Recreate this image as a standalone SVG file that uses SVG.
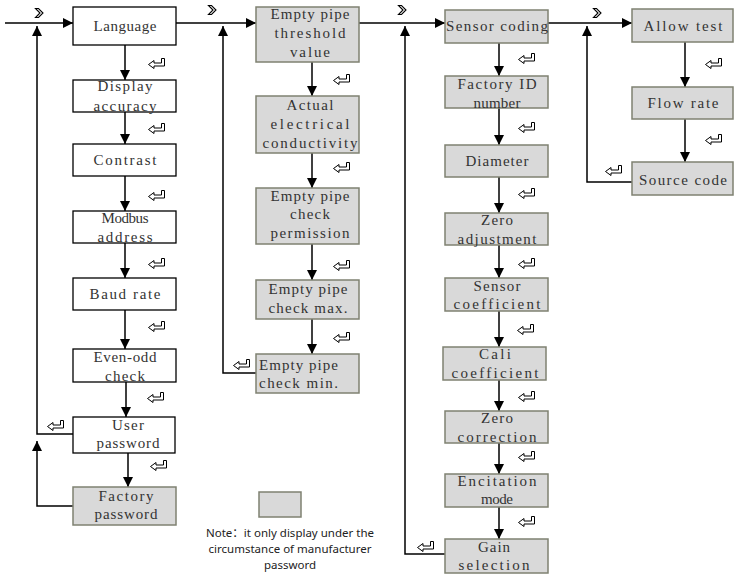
<svg xmlns="http://www.w3.org/2000/svg" width="734" height="579" viewBox="0 0 734 579">
<style>
.bw{fill:#fff;stroke:#000;stroke-width:1.3}
.bg{fill:#d9d9d9;stroke:#7f8171;stroke-width:1.5}
.t{font-family:"Liberation Serif",serif;font-size:15px;fill:#333;text-anchor:middle}
.tl{font-family:"Liberation Serif",serif;font-size:15px;fill:#333}
.c{fill:none;stroke:#000;stroke-width:1.5}
.n{font-family:"Noto Sans","Noto Sans CJK SC",sans-serif;font-size:11.5px;fill:#222;text-anchor:middle}
</style>
<defs>
<marker id="ah" markerWidth="10" markerHeight="10" refX="10" refY="5" orient="auto" markerUnits="userSpaceOnUse"><path d="M0,0 L10,5 L0,10 Z" fill="#000"/></marker>
<g id="ret"><path d="M0.5,6.5 L6,2.5 L6,5 L13.5,5 L13.5,0.5 L16.5,0.5 L16.5,8 L6,8 L6,10.5 Z" fill="#fff" stroke="#000" stroke-width="1"/></g>
<g id="chev"><path d="M0.5,0.5 L3.5,0.5 L8,5 L3.5,9.5 L0.5,9.5 L5,5 Z" fill="#fff" stroke="#000" stroke-width="1.1"/></g>
</defs>

<g id="connectors">
<path class="c" d="M5,23 H73" marker-end="url(#ah)"/>
<path class="c" d="M176,23 H256" marker-end="url(#ah)"/>
<path class="c" d="M359,23 H445" marker-end="url(#ah)"/>
<path class="c" d="M548,23 H632" marker-end="url(#ah)"/>
<path class="c" d="M125,45 V80" marker-end="url(#ah)"/>
<path class="c" d="M125,112 V144" marker-end="url(#ah)"/>
<path class="c" d="M125,176 V211" marker-end="url(#ah)"/>
<path class="c" d="M125,243 V278" marker-end="url(#ah)"/>
<path class="c" d="M125,310 V349" marker-end="url(#ah)"/>
<path class="c" d="M126,382 V417" marker-end="url(#ah)"/>
<path class="c" d="M128,453 V487" marker-end="url(#ah)"/>
<path class="c" d="M73,434 H37 V26" marker-end="url(#ah)"/>
<path class="c" d="M73,506 H37 V441" marker-end="url(#ah)"/>
<path class="c" d="M312,62 V96" marker-end="url(#ah)"/>
<path class="c" d="M312,153 V188" marker-end="url(#ah)"/>
<path class="c" d="M312,244 V280" marker-end="url(#ah)"/>
<path class="c" d="M312,319 V354" marker-end="url(#ah)"/>
<path class="c" d="M256,373 H223 V26" marker-end="url(#ah)"/>
<path class="c" d="M499,43 V76" marker-end="url(#ah)"/>
<path class="c" d="M499,108 V145" marker-end="url(#ah)"/>
<path class="c" d="M499,177 V213" marker-end="url(#ah)"/>
<path class="c" d="M499,245 V278" marker-end="url(#ah)"/>
<path class="c" d="M499,311 V347" marker-end="url(#ah)"/>
<path class="c" d="M499,380 V411" marker-end="url(#ah)"/>
<path class="c" d="M499,443 V474" marker-end="url(#ah)"/>
<path class="c" d="M499,507 V539" marker-end="url(#ah)"/>
<path class="c" d="M445,554 H405 V26" marker-end="url(#ah)"/>
<path class="c" d="M685,42 V87" marker-end="url(#ah)"/>
<path class="c" d="M685,119 V162" marker-end="url(#ah)"/>
<path class="c" d="M632,182 H587 V26" marker-end="url(#ah)"/>
<use href="#chev" x="35" y="8"/>
<use href="#chev" x="208" y="5"/>
<use href="#chev" x="398" y="5"/>
<use href="#chev" x="593" y="8"/>
<use href="#ret" x="148" y="58"/>
<use href="#ret" x="148" y="123"/>
<use href="#ret" x="148" y="190"/>
<use href="#ret" x="148" y="258"/>
<use href="#ret" x="148" y="321"/>
<use href="#ret" x="147" y="392"/>
<use href="#ret" x="150" y="460"/>
<use href="#ret" x="47" y="420"/>
<use href="#ret" x="333" y="74"/>
<use href="#ret" x="333" y="162"/>
<use href="#ret" x="333" y="260"/>
<use href="#ret" x="333" y="332"/>
<use href="#ret" x="233" y="359"/>
<use href="#ret" x="518" y="53"/>
<use href="#ret" x="518" y="122"/>
<use href="#ret" x="518" y="188"/>
<use href="#ret" x="518" y="258"/>
<use href="#ret" x="517" y="324"/>
<use href="#ret" x="518" y="391"/>
<use href="#ret" x="518" y="451"/>
<use href="#ret" x="518" y="516"/>
<use href="#ret" x="417" y="541"/>
<use href="#ret" x="705" y="58"/>
<use href="#ret" x="705" y="134"/>
<use href="#ret" x="605" y="165"/>
</g>

<g id="language"><rect class="bw" x="73" y="7" width="103" height="38"/><text class="t" x="125" y="31" textLength="63">Language</text></g>
<g id="display-accuracy"><rect class="bw" x="73" y="80" width="103" height="32"/><text class="t" x="125" y="91" textLength="55">Display</text><text class="t" x="125" y="111" textLength="63">accuracy</text></g>
<g id="contrast"><rect class="bw" x="73" y="144" width="103" height="32"/><text class="t" x="125" y="165" textLength="63">Contrast</text></g>
<g id="modbus-address"><rect class="bw" x="73" y="211" width="103" height="32"/><text class="t" x="125" y="223" textLength="47">Modbus</text><text class="t" x="125" y="242" textLength="55">address</text></g>
<g id="baud-rate"><rect class="bw" x="73" y="278" width="103" height="32"/><text class="t" x="125" y="299" textLength="71">Baud rate</text></g>
<g id="even-odd-check"><rect class="bw" x="73" y="349" width="103" height="33"/><text class="t" x="125" y="362" textLength="63">Even-odd</text><text class="t" x="125" y="381" textLength="40">check</text></g>
<g id="user-password"><rect class="bw" x="73" y="417" width="102" height="36"/><text class="t" x="128" y="430" textLength="32">User</text><text class="t" x="128" y="448" textLength="63">password</text></g>
<g id="factory-password"><rect class="bg" x="73" y="487" width="103" height="38"/><text class="t" x="126" y="501" textLength="55">Factory</text><text class="t" x="126" y="519" textLength="63">password</text></g>

<g id="empty-pipe-threshold"><rect class="bg" x="256" y="7" width="103" height="55"/><text class="t" x="310" y="19" textLength="79">Empty pipe</text><text class="t" x="310" y="38" textLength="71">threshold</text><text class="t" x="310" y="57" textLength="40">value</text></g>
<g id="actual-conductivity"><rect class="bg" x="256" y="96" width="103" height="57"/><text class="t" x="310" y="110" textLength="47">Actual</text><text class="t" x="310" y="129" textLength="79">electrical</text><text class="t" x="310" y="148" textLength="95">conductivity</text></g>
<g id="empty-pipe-permission"><rect class="bg" x="256" y="188" width="103" height="56"/><text class="t" x="310" y="201" textLength="79">Empty pipe</text><text class="t" x="310" y="219" textLength="40">check</text><text class="t" x="310" y="238" textLength="79">permission</text></g>
<g id="empty-pipe-max"><rect class="bg" x="256" y="280" width="103" height="39"/><text class="t" x="308" y="294" textLength="79">Empty pipe</text><text class="t" x="308" y="313" textLength="79">check max.</text></g>
<g id="empty-pipe-min"><rect class="bg" x="256" y="354" width="103" height="39"/><text class="tl" x="259" y="370" textLength="79">Empty pipe</text><text class="tl" x="259" y="388" textLength="79">check min.</text></g>

<g id="sensor-coding"><rect class="bg" x="445" y="10" width="103" height="33"/><text class="t" x="497" y="31" textLength="102">Sensor coding</text></g>
<g id="factory-id"><rect class="bg" x="445" y="76" width="103" height="32"/><text class="t" x="497" y="89" textLength="79">Factory ID</text><text class="t" x="497" y="108" textLength="47">number</text></g>
<g id="diameter"><rect class="bg" x="445" y="145" width="103" height="32"/><text class="t" x="497" y="166" textLength="63">Diameter</text></g>
<g id="zero-adjustment"><rect class="bg" x="445" y="213" width="103" height="32"/><text class="t" x="497" y="225" textLength="32">Zero</text><text class="t" x="497" y="244" textLength="79">adjustment</text></g>
<g id="sensor-coefficient"><rect class="bg" x="445" y="278" width="103" height="33"/><text class="t" x="497" y="291" textLength="47">Sensor</text><text class="t" x="497" y="309" textLength="87">coefficient</text></g>
<g id="cali-coefficient"><rect class="bg" x="443" y="347" width="103" height="33"/><text class="t" x="495" y="359" textLength="32">Cali</text><text class="t" x="495" y="378" textLength="87">coefficient</text></g>
<g id="zero-correction"><rect class="bg" x="445" y="411" width="103" height="32"/><text class="t" x="497" y="423" textLength="32">Zero</text><text class="t" x="497" y="442" textLength="79">correction</text></g>
<g id="encitation-mode"><rect class="bg" x="445" y="474" width="103" height="33"/><text class="t" x="497" y="486" textLength="79">Encitation</text><text class="t" x="497" y="504" textLength="32">mode</text></g>
<g id="gain-selection"><rect class="bg" x="445" y="539" width="103" height="34"/><text class="t" x="494" y="552" textLength="32">Gain</text><text class="t" x="494" y="570" textLength="71">selection</text></g>

<g id="allow-test"><rect class="bg" x="632" y="9" width="101" height="33"/><text class="t" x="683" y="31" textLength="79">Allow test</text></g>
<g id="flow-rate"><rect class="bg" x="632" y="87" width="101" height="32"/><text class="t" x="683" y="108" textLength="71">Flow rate</text></g>
<g id="source-code"><rect class="bg" x="632" y="162" width="101" height="33"/><text class="t" x="683" y="185" textLength="88">Source code</text></g>

<g id="legend"><rect class="bg" x="259" y="492" width="42" height="25"/><text class="n" x="290" y="537">Note：it only display under the</text><text class="n" x="290" y="553">circumstance of manufacturer</text><text class="n" x="290" y="569">password</text></g>
</svg>
